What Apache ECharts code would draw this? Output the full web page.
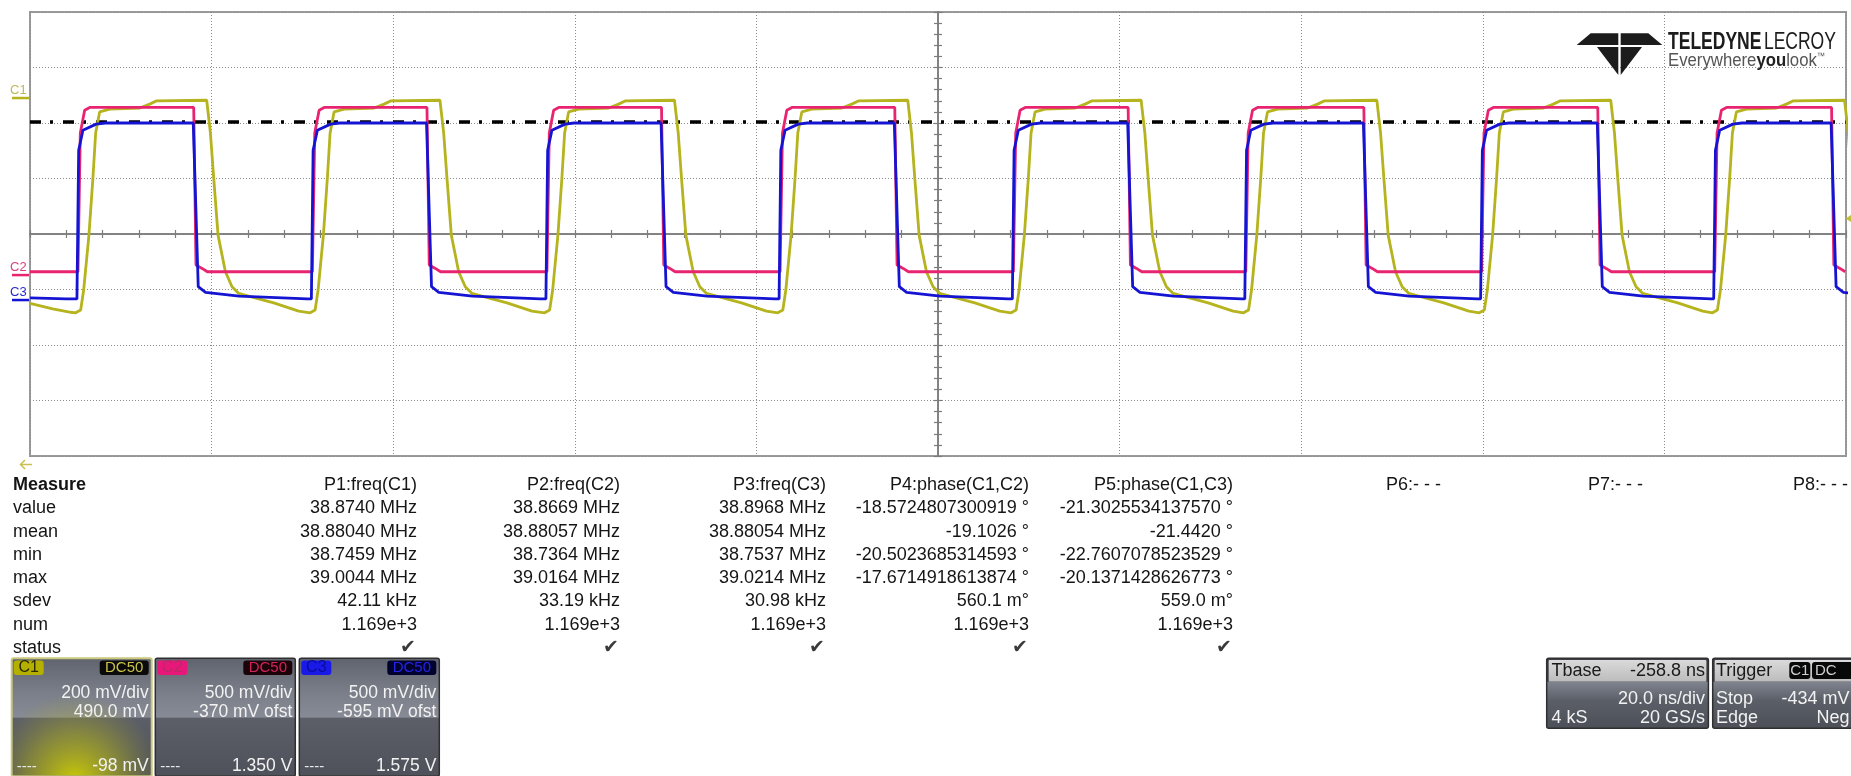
<!DOCTYPE html>
<html><head><meta charset="utf-8">
<script src="https://cdn.jsdelivr.net/npm/echarts@6.0.0/dist/echarts.min.js"></script>
<style>html,body{margin:0;padding:0;background:#fff;overflow:hidden}#main{width:1851px;height:776px}</style>
</head><body><div id="main"></div>
<script>
// ---------- DATA ----------
// time axis: ns relative to screen centre (20 ns/div, 10 div); vertical: screen divisions (8 div)
const risesNs = [-94.72, -68.90, -43.07, -17.39, 8.30, 33.90, 59.87, 85.54];
const fallsNs = [-81.97, -56.28, -30.45, -4.76, 20.94, 46.90, 72.66, 98.41];

// C1 (yellow) – shape around each edge [ns offset, div]
const c1LeadIn = [[-100, -1.25], [-97.5, -1.35], [-95.5, -1.41]];
const c1RiseShape = [[-0.25,-1.42],[0.30,-1.37],[0.63,-1.01],[1.21,-0.02],[1.65,1.01],[1.95,1.82],[2.39,2.20],[3.49,2.25],[6.80,2.27],[7.90,2.34],[8.67,2.40]];
const c1FallShape = [[1.43,2.41],[1.84,1.82],[2.20,1.01],[2.68,-0.02],[3.49,-0.68],[4.22,-0.95],[4.96,-1.07],[6.24,-1.13],[8.81,-1.24],[11.56,-1.39]];
// C2 (pink)
const c2LeadIn = [[-100, -0.68]];
const c2RiseShape = [[0,-0.68],[0.26,1.82],[0.74,2.23],[1.3,2.28]];
const c2FallShape = [[0,2.28],[0.25,-0.56],[0.92,-0.62],[1.5,-0.68]];
// C3 (blue)
const c3LeadIn = [[-100,-1.15],[-96,-1.17]];
const c3RiseShape = [[-0.11,-1.17],[0.08,1.51],[0.55,1.87],[2.0,1.98],[3.0,2.0]];
const c3FallShape = [[-0.05,2.0],[0.5,-0.95],[1.3,-1.05],[5,-1.12],[12.5,-1.17]];

const refLineDiv = 2.02;            // black dash-dot reference level
const chNames = ['C1','C2','C3'];
const chCoupling = ['DC50','DC50','DC50'];
const chVdivMv = [200, 500, 500];
const chOffsetMv = [490, -370, -595];
const chScaleText = ['200 mV/div','500 mV/div','500 mV/div'];
const chOffsetText = ['490.0 mV','-370 mV ofst','-595 mV ofst'];
const chBottomText = ['-98 mV','1.350 V','1.575 V'];
const triggerMv = -434;

const measureRows = ['value','mean','min','max','sdev','num','status'];
const paramNames = ['P1:freq(C1)','P2:freq(C2)','P3:freq(C3)','P4:phase(C1,C2)','P5:phase(C1,C3)','P6:- - -','P7:- - -','P8:- - -'];
const pValue = ['38.8740 MHz','38.8669 MHz','38.8968 MHz','-18.5724807300919 °','-21.3025534137570 °'];
const pMean  = ['38.88040 MHz','38.88057 MHz','38.88054 MHz','-19.1026 °','-21.4420 °'];
const pMin   = ['38.7459 MHz','38.7364 MHz','38.7537 MHz','-20.5023685314593 °','-22.7607078523529 °'];
const pMax   = ['39.0044 MHz','39.0164 MHz','39.0214 MHz','-17.6714918613874 °','-20.1371428626773 °'];
const pSdev  = ['42.11 kHz','33.19 kHz','30.98 kHz','560.1 m°','559.0 m°'];
const pNum   = ['1.169e+3','1.169e+3','1.169e+3','1.169e+3','1.169e+3'];
const pStatus = ['✔','✔','✔','✔','✔'];

const tbaseText = ['Tbase','-258.8 ns','20.0 ns/div','4 kS','20 GS/s'];
const trigText = ['Trigger','C1','DC','Stop','-434 mV','Edge','Neg'];

// ---------- CHART ----------
const FONT = '"Liberation Sans", Arial, sans-serif';
const colC1 = '#b5b31e', colC2 = '#e8236f', colC3 = '#1414d2';

function buildTrace(leadIn, riseShape, fallShape) {
  const pts = leadIn.map(p => [p[0], p[1]]);
  for (let k = 0; k < risesNs.length; k++) {
    riseShape.forEach(p => pts.push([risesNs[k] + p[0], p[1]]));
    if (k < fallsNs.length) fallShape.forEach(p => pts.push([fallsNs[k] + p[0], p[1]]));
  }
  return pts;
}

const chart = echarts.init(document.getElementById('main'), null, {renderer:'canvas'});
const tickStyle = {color:'#7c7c7c', width:1.2};
const gridLine = {show:true, lineStyle:{color:'#8c8c8c', type:[1,2], width:1}};
function xAx(pos, extra) {
  return Object.assign({type:'value', min:-100, max:100, interval:20, position:pos,
    axisLabel:{show:false},
    axisLine:{show:true, onZero:true, onZeroAxisIndex:0, lineStyle:{color:'#7c7c7c', width:1.5}},
    axisTick:{show:true, length:4, lineStyle:tickStyle},
    minorTick:{show:true, splitNumber:5, length:4, lineStyle:tickStyle},
    splitLine:{show:false}}, extra||{});
}
function yAx(pos, extra) {
  return Object.assign({type:'value', min:-4, max:4, interval:1, position:pos,
    axisLabel:{show:false},
    axisLine:{show:true, onZero:true, onZeroAxisIndex:0, lineStyle:{color:'#7c7c7c', width:1.5}},
    axisTick:{show:true, length:4, lineStyle:tickStyle},
    minorTick:{show:true, splitNumber:5, length:4, lineStyle:tickStyle},
    splitLine:{show:false}}, extra||{});
}
const lineSeries = (name, data, color, z) => ({
  name, type:'line', data, xAxisIndex:0, yAxisIndex:0, showSymbol:false, symbol:'none',
  lineStyle:{color, width:2.8}, z, silent:true, clip:true, animation:false
});

const option = {
  animation:false,
  backgroundColor:'#ffffff',
  grid:{left:30, right:5, top:12, height:444, show:true, borderColor:'#9a9a9a', borderWidth:2, backgroundColor:'transparent'},
  xAxis:[xAx('bottom', {splitLine:gridLine}), xAx('top')],
  yAxis:[yAx('left', {splitLine:gridLine}), yAx('right')],
  series:[
    {type:'line', data:[[-100, refLineDiv],[100, refLineDiv]], xAxisIndex:0, yAxisIndex:0, showSymbol:false, symbol:'none',
     lineStyle:{color:'#000', width:3.5, type:[11,9,3,10]}, z:1, silent:true},
    lineSeries('C1', buildTrace(c1LeadIn, c1RiseShape, c1FallShape), colC1, 2),
    lineSeries('C2', buildTrace(c2LeadIn, c2RiseShape, c2FallShape), colC2, 3),
    lineSeries('C3', buildTrace(c3LeadIn, c3RiseShape, c3FallShape), colC3, 4)
  ]
};
chart.setOption(option);

// ---------- GRAPHIC overlays ----------
const G = [];
function txt(x, y, text, o) {
  o = o || {};
  const st = Object.assign({text, fill:'#151515', fontSize:18, fontFamily:FONT, fontWeight:'normal',
    align:'left', verticalAlign:'middle', textAlign:'left', textVerticalAlign:'middle'}, o.style||{});
  if (st.align) st.textAlign = st.align;
  const el = {type:'text', x, y, z:100, silent:true, style:st};
  if (o.scaleX) el.scaleX = o.scaleX;
  G.push(el);
}
function rect(x, y, w, h, fill, stroke, lw, r) {
  G.push({type:'rect', z:90, silent:true, shape:{x, y, width:w, height:h, r:r||0},
    style:{fill, stroke:stroke||null, lineWidth:lw||0}});
}
const toPx = (x, y) => chart.convertToPixel({xAxisIndex:0, yAxisIndex:0}, [x, y]);

// channel ground markers on the left
const chCols = [colC1, colC2, colC3];
const chLabelCols = ['#bdb85a', '#d8407f', '#2a2ac8'];
for (let i = 0; i < 3; i++) {
  const lvl = chOffsetMv[i] / chVdivMv[i];
  const py = toPx(0, lvl)[1];
  G.push({type:'line', z:100, silent:true, shape:{x1:12, y1:py, x2:29, y2:py}, style:{stroke:chCols[i], lineWidth:2.5}});
  txt(10, py - 8, chNames[i], {style:{fontSize:13, fill:chLabelCols[i]}});
}
// trigger level arrow on the right
{
  const lvl = (triggerMv + chOffsetMv[0]) / chVdivMv[0];
  const py = toPx(0, lvl)[1];
  G.push({type:'polygon', z:100, silent:true, shape:{points:[[1845.5, py],[1851, py-3.5],[1851, py+3.5]]}, style:{fill:'#c4be3a'}});
}
// trigger-position arrow (bottom left)
G.push({type:'polyline', z:100, silent:true, shape:{points:[[25,460],[20.5,464.5],[25,469]]}, style:{stroke:'#c8c050', lineWidth:1.5, fill:null}});
G.push({type:'line', z:100, silent:true, shape:{x1:21, y1:464.5, x2:32, y2:464.5}, style:{stroke:'#c8c050', lineWidth:1.5}});

// logo
const lx = 1619.5;
const logoPolys = [
  [[1590.7,33.3],[lx-1.2,33.3],[lx-1.2,45],[1576.7,45]],
  [[lx+1.2,33.3],[2*lx-1590.7,33.3],[2*lx-1576.7,45],[lx+1.2,45]],
  [[1597,47],[lx-1.2,47],[lx-1.2,75]],
  [[lx+1.2,47],[2*lx-1597,47],[lx+1.2,75]]
];
logoPolys.forEach(p => G.push({type:'polygon', z:100, silent:true, shape:{points:p}, style:{fill:'#1c1c1c'}}));
G.push({type:'text', x:1668, y:42.5, scaleX:0.73, z:100, silent:true, style:{
  text:'{b|TELEDYNE} {r|LECROY}', verticalAlign:'middle', textVerticalAlign:'middle',
  rich:{b:{fontSize:24, fontWeight:'bold', fontFamily:FONT, fill:'#1c1c1c'}, r:{fontSize:24, fontFamily:FONT, fill:'#1c1c1c'}}}});
G.push({type:'text', x:1668, y:61, scaleX:0.93, z:100, silent:true, style:{
  text:'{a|Everywhere}{b|you}{a|look}{t|™}', verticalAlign:'middle', textVerticalAlign:'middle',
  rich:{a:{fontSize:18, fontFamily:FONT, fill:'#555555'}, b:{fontSize:18, fontWeight:'bold', fontFamily:FONT, fill:'#222222'},
        t:{fontSize:9, fontFamily:FONT, fill:'#555555', verticalAlign:'top'}}}});

// measurement table
const colRight = [417, 620, 826, 1029, 1233, 1441, 1643, 1848];
const rowY0 = 485, rowStep = 23.3;
txt(13, rowY0, 'Measure', {style:{fontWeight:'bold'}});
measureRows.forEach((r, i) => txt(13, rowY0 + (i + 1) * rowStep, r));
paramNames.forEach((p, j) => txt(colRight[j], rowY0, p, {style:{align:'right'}}));
const rowsData = [pValue, pMean, pMin, pMax, pSdev, pNum];
rowsData.forEach((arr, i) => arr.forEach((v, j) => txt(colRight[j], rowY0 + (i + 1) * rowStep, v, {style:{align:'right'}})));
pStatus.forEach((v, j) => txt(colRight[j] - 1, rowY0 + 7 * rowStep, v, {style:{align:'right', fontSize:19, fill:'#3a3a3a', fontFamily:'"DejaVu Sans", sans-serif'}}));

// channel descriptor boxes
const boxBody = new echarts.graphic.LinearGradient(0, 0, 0, 1, [
  {offset:0, color:'#5f636e'}, {offset:0.3, color:'#7b7f89'}, {offset:0.5, color:'#878b95'},
  {offset:0.505, color:'#5c5f68'}, {offset:1, color:'#4e5159'}]);
const boxX = [11.7, 155.3, 299.3];
const labelFill = ['#b5b000', '#e8187a', '#1a1ae8'];
const labelText = ['#2a2a00', '#b82a68', '#0c0c9a'];
const dcFill = ['#0a0a0a', '#1c0309', '#02022e'];
const dcText = ['#c9c24a', '#d0245a', '#2424e6'];
for (let i = 0; i < 3; i++) {
  const x = boxX[i], y = 658.3, w = 140, h = 118;
  rect(x, y, w, h, boxBody, i === 0 ? '#c9c77e' : '#2f2f2f', i === 0 ? 2 : 1.5, 2);
  if (i === 0) {
    G.push({type:'rect', z:91, silent:true, shape:{x:x+1, y:y+1, width:w-2, height:h-2},
      style:{fill:new echarts.graphic.RadialGradient(0.45, 1.05, 0.75, [
        {offset:0, color:'rgba(210,210,0,0.95)'}, {offset:0.55, color:'rgba(190,190,20,0.45)'}, {offset:1, color:'rgba(160,160,40,0)'}])}});
  }
  G.push({type:'rect', z:95, silent:true, shape:{x:x+2, y:y+2.2, width:30, height:14.5, r:3}, style:{fill:labelFill[i]}});
  txt(x + 17, y + 9.5, chNames[i], {style:{align:'center', fontSize:16, fill:labelText[i]}});
  G.push({type:'rect', z:95, silent:true, shape:{x:x+w-52, y:y+2.2, width:49, height:14.5, r:3}, style:{fill:dcFill[i]}});
  txt(x + w - 27.5, y + 9.5, chCoupling[i], {style:{align:'center', fontSize:15, fill:dcText[i]}});
  txt(x + w - 3, 693.3, chScaleText[i], {style:{align:'right', fontSize:17.5, fill:'#f2f2f2'}});
  txt(x + w - 3, 711.7, chOffsetText[i], {style:{align:'right', fontSize:17.5, fill:'#f2f2f2'}});
  txt(x + 5, 766.5, '----', {style:{fontSize:15, fill:'#e8e8e8'}});
  txt(x + w - 3, 766.5, chBottomText[i], {style:{align:'right', fontSize:17.5, fill:'#f2f2f2'}});
}

// timebase & trigger boxes
const hdrFill = new echarts.graphic.LinearGradient(0, 0, 0, 1, [{offset:0, color:'#dadada'}, {offset:1, color:'#bcbcbc'}]);
const tbBody = new echarts.graphic.LinearGradient(0, 0, 0, 1, [
  {offset:0, color:'#3c3f46'}, {offset:0.33, color:'#3c3f46'}, {offset:0.34, color:'#80848e'}, {offset:0.6, color:'#5b5f68'}, {offset:1, color:'#4c4f57'}]);
[[1546.7, 161.7], [1712.7, 145]].forEach(([bx, bw]) => {
  rect(bx, 658.3, bw, 70, tbBody, '#2f2f2f', 1.5, 2);
  rect(bx + 2, 660, bw - 4, 21.5, hdrFill, null, 0, 1);
});
txt(1551.5, 670.8, tbaseText[0], {style:{fill:'#1a1a1a'}});
txt(1705, 670.8, tbaseText[1], {style:{align:'right', fill:'#1a1a1a'}});
txt(1705, 699.5, tbaseText[2], {style:{align:'right', fill:'#f2f2f2'}});
txt(1551.5, 718.5, tbaseText[3], {style:{fill:'#f2f2f2'}});
txt(1705, 718.5, tbaseText[4], {style:{align:'right', fill:'#f2f2f2'}});

txt(1716, 670.8, trigText[0], {style:{fill:'#1a1a1a'}});
G.push({type:'rect', z:95, silent:true, shape:{x:1789.3, y:662, width:21, height:17, r:3}, style:{fill:'#080808'}});
txt(1799.8, 670.8, trigText[1], {style:{align:'center', fontSize:15, fill:'#d0d0d0'}});
G.push({type:'rect', z:95, silent:true, shape:{x:1812, y:662, width:45, height:17, r:3}, style:{fill:'#080808'}});
txt(1815, 670.8, trigText[2], {style:{fontSize:15, fill:'#d0d0d0'}});
txt(1716, 699.5, trigText[3], {style:{fill:'#f2f2f2'}});
txt(1849.5, 699.5, trigText[4], {style:{align:'right', fill:'#f2f2f2'}});
txt(1716, 718.5, trigText[5], {style:{fill:'#f2f2f2'}});
txt(1849.5, 718.5, trigText[6], {style:{align:'right', fill:'#f2f2f2'}});

chart.setOption({graphic:{elements:G}});
</script></body></html>
